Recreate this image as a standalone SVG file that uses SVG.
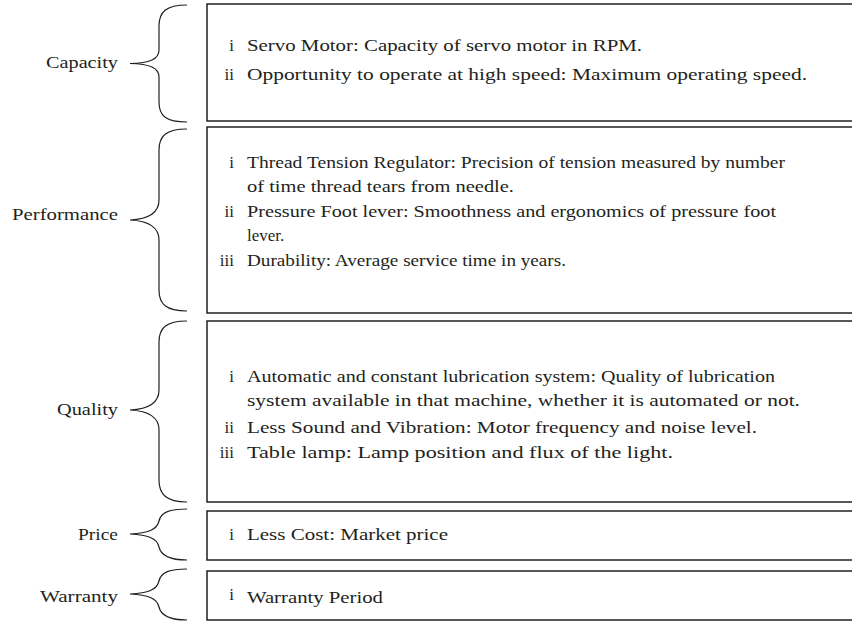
<svg xmlns="http://www.w3.org/2000/svg" width="852" height="625" viewBox="0 0 852 625">
<style>
text{font-family:"Liberation Serif","Times New Roman",serif;font-size:17px;fill:#231f20}
.lbl{text-anchor:end}
.num{text-anchor:end}
.box{fill:#fff;stroke:#231f20;stroke-width:1.5}
.brace{fill:none;stroke:#231f20;stroke-width:1.2}
</style>
<rect width="852" height="625" fill="#fff"/>
<g id="connectors">
<path class="brace" d="M187 5 C166 5 159 12 159 26 L159 50 C159 59 150 63 130 63.5 C150 64 159 68 159 77 L159 102 C159 116 166 122 187 122"/>
<path class="brace" d="M187 129 C166 129 159 136 159 150 L159 200 C159 212 150 219 130 220 C150 221 159 228 159 240 L159 290 C159 304 166 311 187 311"/>
<path class="brace" d="M187 321 C166 321 159 328 159 342 L159 390 C159 402 150 409 130 410 C150 411 159 418 159 430 L159 480 C159 494 166 502 187 502"/>
<path class="brace" d="M187 509 C170 509 161 512 159 521 C157 530 148 533 130 534 C148 535 157 538 159 547 C161 556 170 560 187 560"/>
<path class="brace" d="M187 569 C170 569 161 572 159 581 C157 590 148 593 130 594 C148 595 157 598 159 607 C161 616 170 620 187 620"/>
</g>
<g id="capacity">
<rect class="box" x="207" y="4" width="650" height="117"/>
<text x="46" y="68" textLength="72" lengthAdjust="spacingAndGlyphs">Capacity</text>
<text class="num" x="234" y="51">i</text>
<text x="247" y="51" textLength="395" lengthAdjust="spacingAndGlyphs">Servo Motor: Capacity of servo motor in RPM.</text>
<text class="num" x="234" y="80">ii</text>
<text x="247" y="80" textLength="560" lengthAdjust="spacingAndGlyphs">Opportunity to operate at high speed: Maximum operating speed.</text>
</g>
<g id="performance">
<rect class="box" x="207" y="127" width="650" height="186"/>
<text x="12" y="220" textLength="106" lengthAdjust="spacingAndGlyphs">Performance</text>
<text class="num" x="234" y="168">i</text>
<text x="247" y="168" textLength="538" lengthAdjust="spacingAndGlyphs">Thread Tension Regulator: Precision of tension measured by number</text>
<text x="247" y="192" textLength="267" lengthAdjust="spacingAndGlyphs">of time thread tears from needle.</text>
<text class="num" x="234" y="217">ii</text>
<text x="247" y="217" textLength="529" lengthAdjust="spacingAndGlyphs">Pressure Foot lever: Smoothness and ergonomics of pressure foot</text>
<text x="247" y="241">lever.</text>
<text class="num" x="234" y="266">iii</text>
<text x="247" y="266" textLength="319" lengthAdjust="spacingAndGlyphs">Durability: Average service time in years.</text>
</g>
<g id="quality">
<rect class="box" x="207" y="321" width="650" height="181"/>
<text x="57" y="415" textLength="61" lengthAdjust="spacingAndGlyphs">Quality</text>
<text class="num" x="234" y="382">i</text>
<text x="247" y="382" textLength="528" lengthAdjust="spacingAndGlyphs">Automatic and constant lubrication system: Quality of lubrication</text>
<text x="247" y="406" textLength="553" lengthAdjust="spacingAndGlyphs">system available in that machine, whether it is automated or not.</text>
<text class="num" x="234" y="433">ii</text>
<text x="247" y="433" textLength="510" lengthAdjust="spacingAndGlyphs">Less Sound and Vibration: Motor frequency and noise level.</text>
<text class="num" x="234" y="458">iii</text>
<text x="247" y="458" textLength="426" lengthAdjust="spacingAndGlyphs">Table lamp: Lamp position and flux of the light.</text>
</g>
<g id="price">
<rect class="box" x="207" y="511" width="650" height="49"/>
<text x="78" y="540" textLength="40" lengthAdjust="spacingAndGlyphs">Price</text>
<text class="num" x="234" y="540">i</text>
<text x="247" y="540" textLength="201" lengthAdjust="spacingAndGlyphs">Less Cost: Market price</text>
</g>
<g id="warranty">
<rect class="box" x="207" y="571" width="650" height="49"/>
<text x="40" y="602" textLength="78" lengthAdjust="spacingAndGlyphs">Warranty</text>
<text class="num" x="234" y="600">i</text>
<text x="247" y="603" textLength="136" lengthAdjust="spacingAndGlyphs">Warranty Period</text>
</g>
</svg>
